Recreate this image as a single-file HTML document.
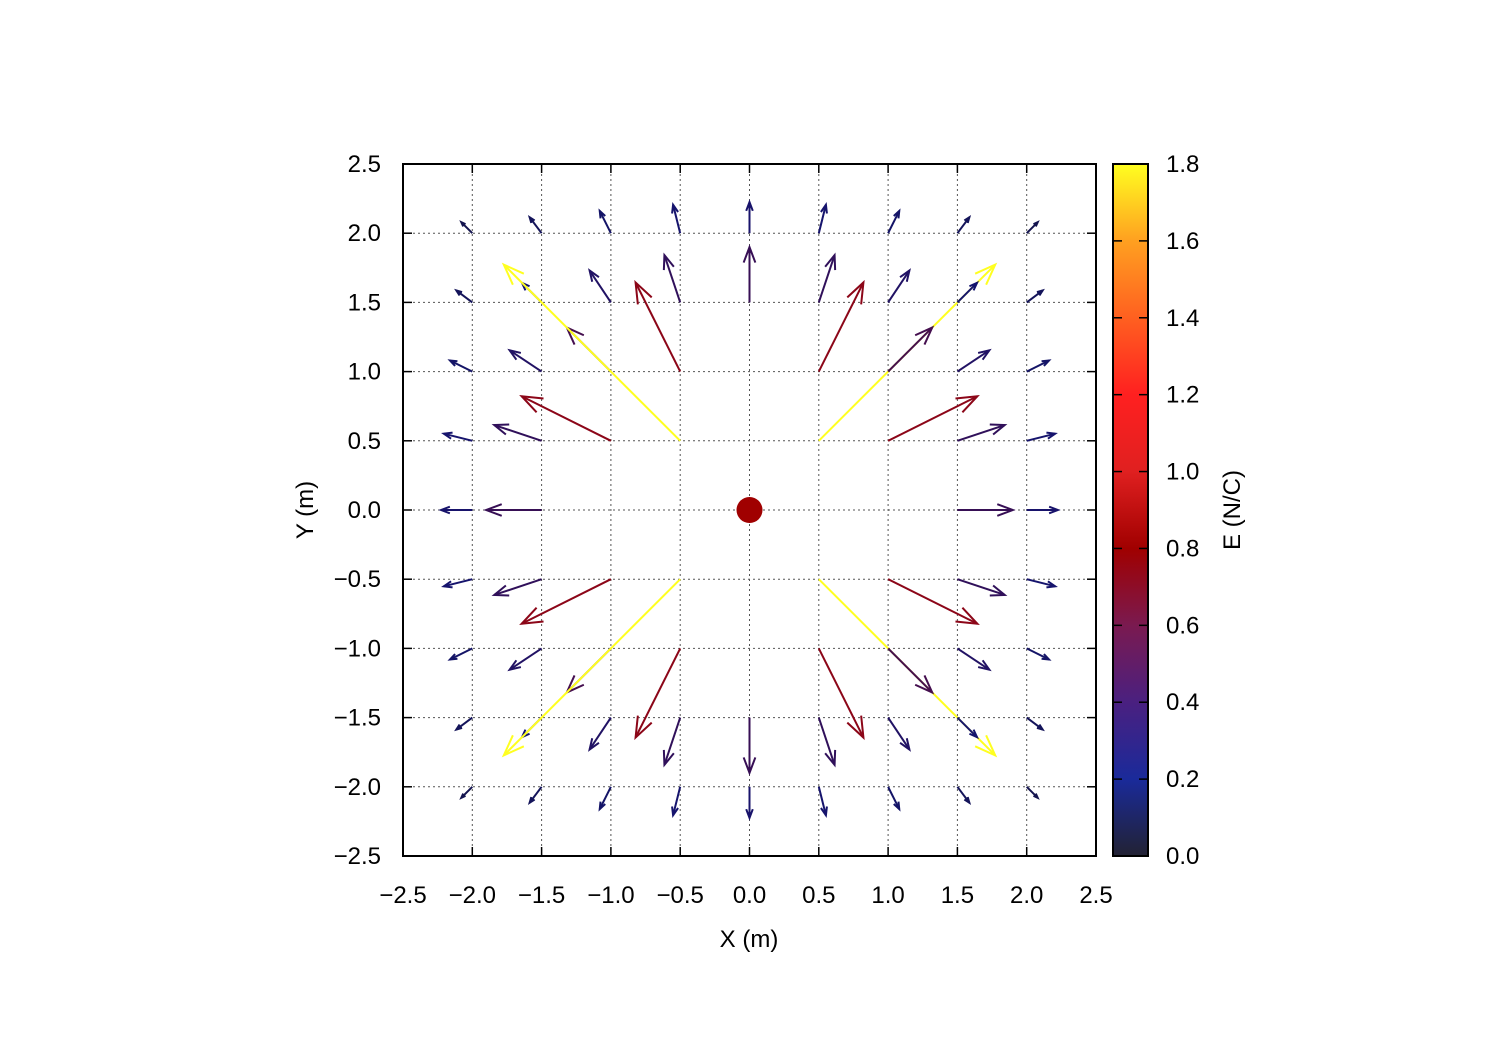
<!DOCTYPE html>
<html><head><meta charset="utf-8"><style>
body{margin:0;background:#fff}
text{font-family:"Liberation Sans",sans-serif;font-size:24px;fill:#000}
</style></head><body>
<svg id="chart" width="1500" height="1050" viewBox="0 0 1500 1050" xmlns="http://www.w3.org/2000/svg">
<defs><linearGradient id="cbg" x1="0" y1="1" x2="0" y2="0">
<stop offset="0" stop-color="#222233"/><stop offset="0.111" stop-color="#1a2a9a"/><stop offset="0.222" stop-color="#4a2080"/><stop offset="0.333" stop-color="#7a1a50"/><stop offset="0.444" stop-color="#a00000"/><stop offset="0.556" stop-color="#e02020"/><stop offset="0.667" stop-color="#ff2020"/><stop offset="0.778" stop-color="#ff6020"/><stop offset="0.889" stop-color="#ffa020"/><stop offset="1" stop-color="#ffff20"/></linearGradient></defs>
<g id="grid"></g>
<g id="arrows"></g>
<circle cx="749.5" cy="510" r="13" fill="#a00000"/>
<rect x="403" y="164" width="693" height="692" fill="none" stroke="#000" stroke-width="2"/>
<g id="ticks"></g>
<rect x="1113" y="164" width="35" height="692" fill="url(#cbg)" stroke="#000" stroke-width="2"/>
<text x="749" y="947" text-anchor="middle">X (m)</text>
<text transform="translate(313,510) rotate(-90)" text-anchor="middle">Y (m)</text>
<text transform="translate(1240,510) rotate(-90)" text-anchor="middle">E (N/C)</text>
</svg>
<script>
const gridX = [-2,-1.5,-1,-0.5,0,0.5,1,1.5,2];
const gridY = [-2,-1.5,-1,-0.5,0,0.5,1,1.5,2];
const axisSkip = [0,0.5,1];
const charge = 0.9;
const axisTicks = [-2.5,-2,-1.5,-1,-0.5,0,0.5,1,1.5,2,2.5];
const cbTicks = [0,0.2,0.4,0.6,0.8,1.0,1.2,1.4,1.6,1.8];
const cbMax = 1.8;
const stops = [[0,[20,20,40]],[0.2,[20,20,110]],[0.4,[55,15,85]],[0.6,[110,15,60]],[0.8,[160,0,0]],[1.0,[224,32,32]],[1.2,[255,32,32]],[1.4,[255,96,32]],[1.6,[255,160,32]],[1.8,[255,255,32]]];
const NS="http://www.w3.org/2000/svg";
const X0=403,X1=1096,Y0=856,Y1=164;
const sx=v=>X0+(v+2.5)/5*(X1-X0);
const sy=v=>Y0-(v+2.5)/5*(Y0-Y1);
const cy=v=>856-v/cbMax*692;
function col(e){e=Math.min(cbMax,Math.max(0,e));for(let i=1;i<stops.length;i++){if(e<=stops[i][0]){const a=stops[i-1],b=stops[i],t=(e-a[0])/(b[0]-a[0]);return 'rgb('+a[1].map((c,k)=>Math.round(c+(b[1][k]-c)*t)).join(',')+')';}}return 'rgb(255,255,32)';}
function mk(tag,attrs,parent){const el=document.createElementNS(NS,tag);for(const k in attrs)el.setAttribute(k,attrs[k]);parent.appendChild(el);return el;}
const grid=document.getElementById('grid'),ticks=document.getElementById('ticks'),arrows=document.getElementById('arrows'),svg=document.getElementById('chart');
axisTicks.forEach(v=>{
 if(v>-2.5&&v<2.5){
  const gl=mk('line',{x1:sx(v),x2:sx(v),y1:Y1,y2:Y0,stroke:'#555','stroke-width':1,'stroke-dasharray':'2,3'},grid);
  
  
  const gh=mk('line',{x1:X0,x2:X1,y1:sy(v),y2:sy(v),stroke:'#555','stroke-width':1,'stroke-dasharray':'2,3'},grid);
  
  
 }
 const lab=v===0?'0.0':(v<0?'\u2212'+Math.abs(v).toFixed(1):v.toFixed(1));
 const tx=mk('text',{x:sx(v),y:903,'text-anchor':'middle'},ticks);tx.textContent=lab;
 
 
 const ty=mk('text',{x:381,y:sy(v)+8,'text-anchor':'end'},ticks);ty.textContent=lab;
 
 
 mk('line',{x1:X0,x2:X0+9,y1:sy(v),y2:sy(v),stroke:'#000','stroke-width':1.5},ticks);
 mk('line',{x1:X1,x2:X1-9,y1:sy(v),y2:sy(v),stroke:'#000','stroke-width':1.5},ticks);
 mk('line',{x1:sx(v),x2:sx(v),y1:Y0,y2:Y0-9,stroke:'#000','stroke-width':1.5},ticks);
 mk('line',{x1:sx(v),x2:sx(v),y1:Y1,y2:Y1+9,stroke:'#000','stroke-width':1.5},ticks);
});
gridX.forEach(x=>gridY.forEach(y=>{
 if((x===0&&axisSkip.includes(Math.abs(y)))||(y===0&&axisSkip.includes(Math.abs(x))))return;
 const r2=x*x+y*y;
 const r=Math.sqrt(r2),E=charge/r2,dx=E*x/r,dy=E*y/r;
 const x1=sx(x),y1=sy(y),x2=sx(x+dx),y2=sy(y+dy);
 const c=col(E);
 const g=mk('g',{stroke:c,'stroke-width':2,fill:'none'},arrows);
 
 
 mk('line',{x1:x1,y1:y1,x2:x2,y2:y2},g);
 const L=Math.hypot(x2-x1,y2-y1),h=Math.min(22,L*0.3),a=Math.atan2(y2-y1,x2-x1),w=0.36;
 mk('polyline',{points:(x2-h*Math.cos(a-w))+','+(y2-h*Math.sin(a-w))+' '+x2+','+y2+' '+(x2-h*Math.cos(a+w))+','+(y2-h*Math.sin(a+w))},g);
}));
cbTicks.forEach(v=>{
 mk('line',{x1:1113,x2:1122,y1:cy(v),y2:cy(v),stroke:'#000','stroke-width':1.5},svg);
 mk('line',{x1:1148,x2:1139,y1:cy(v),y2:cy(v),stroke:'#000','stroke-width':1.5},svg);
 const t=mk('text',{x:1166,y:cy(v)+8},svg);t.textContent=v.toFixed(1);
 
 
});
</script>
</body></html>
